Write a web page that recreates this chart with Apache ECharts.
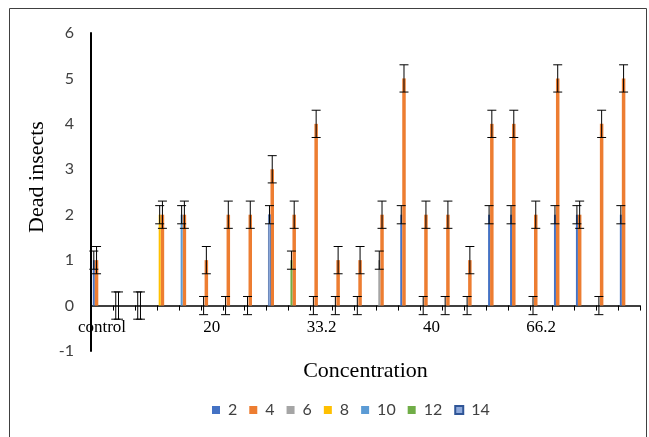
<!DOCTYPE html>
<html>
<head>
<meta charset="utf-8">
<script src="https://cdn.jsdelivr.net/npm/echarts@6/dist/echarts.min.js"></script>
<style>
  html, body { margin: 0; padding: 0; background: #fff; }
  #root { width: 649px; height: 437px; }
</style>
</head>
<body>
<div id="root"></div>
<script>
// x categories, only every 5th one carries a label
var categories = ['control', '', '', '', '', '20', '', '', '', '', '33.2', '', '', '', '',
  '40', '', '', '', '', '66.2', '', '', '', ''];
var yTicks = [-1, 0, 1, 2, 3, 4, 5, 6];
var seriesNames = ['2', '4', '6', '8', '10', '12', '14'];

// dead insects per category (null = no value)
var v2 = [1, 0, 0, null, null, 0, 0, 0, null, null, 0, 0, 0, null, 2, 0, 0, 0, 2, 2, 0, 2, 2, 0, 2];
var v4 = [1, 0, 0, 2, 2, 1, 2, 2, 3, 2, 4, 1, 1, 2, 5, 2, 2, 1, 4, 4, 2, 5, 2, 4, 5];
var v6 = [null, null, null, null, null, null, null, null, null, null, null, null, null, 1, null, null, null, null, null, null, null, null, null, null, null];
var v8 = [null, null, null, 2, null, null, null, null, null, null, null, null, null, null, null, null, null, null, null, null, null, null, null, null, null];
var v10 = [null, null, null, null, 2, null, null, null, null, null, null, null, null, null, null, null, null, null, null, null, null, null, null, null, null];
var v12 = [null, null, null, null, null, null, null, null, null, 1, null, null, null, null, null, null, null, null, null, null, null, null, null, null, null];
var v14 = [null, null, null, null, null, null, null, null, 2, null, null, null, null, null, null, null, null, null, null, null, null, null, null, null, null];

// error bar half lengths
var e2 = [0.2, 0.3, 0.3, null, null, 0.2, 0.2, 0.2, null, null, 0.2, 0.2, 0.2, null, 0.2, 0.2, 0.2, 0.2, 0.2, 0.2, 0.2, 0.2, 0.2, 0.2, 0.2];
var e4 = [0.3, 0.3, 0.3, 0.3, 0.3, 0.3, 0.3, 0.3, 0.3, 0.3, 0.3, 0.3, 0.3, 0.3, 0.3, 0.3, 0.3, 0.3, 0.3, 0.3, 0.3, 0.3, 0.3, 0.3, 0.3];
var e6 = [null, null, null, null, null, null, null, null, null, null, null, null, null, 0.2, null, null, null, null, null, null, null, null, null, null, null];
var e8 = [null, null, null, 0.2, null, null, null, null, null, null, null, null, null, null, null, null, null, null, null, null, null, null, null, null, null];
var e10 = [null, null, null, null, 0.2, null, null, null, null, null, null, null, null, null, null, null, null, null, null, null, null, null, null, null, null];
var e12 = [null, null, null, null, null, null, null, null, null, 0.2, null, null, null, null, null, null, null, null, null, null, null, null, null, null, null];
var e14 = [null, null, null, null, null, null, null, null, 0.2, null, null, null, null, null, null, null, null, null, null, null, null, null, null, null, null];

var values = [v2, v4, v6, v8, v10, v12, v14];
var errors = [e2, e4, e6, e8, e10, e12, e14];
var colors = ['#4472C4', '#ED7D31', '#A5A5A5', '#FFC000', '#5B9BD5', '#70AD47', '#8EA9DB'];

// bar slots inside a category: orange sits beside whichever other series has a value
var slot = function (k) {
  return k === 1 ? {off: 3.8, w: 3.5} : {off: 1.8, w: 2};
};

function toData(vals, errs) {
  var out = [];
  vals.forEach(function (v, i) {
    if (v != null) out.push([i, v, errs[i]]);
  });
  return out;
}

// bar + error bar, error lines get a higher z2 so they sit above every bar
function barRender(k) {
  var s = slot(k);
  return function (params, api) {
    var band = api.size([1, 0])[0];
    var i = api.value(0), v = api.value(1), e = api.value(2);
    var base = api.coord([i, 0]);
    var top = api.coord([i, v]);
    var x = base[0] - band / 2 + s.off;
    var cx = x + s.w / 2;
    var hi = api.coord([i, v + e])[1];
    var lo = api.coord([i, v - e])[1];
    var cap = 4.5;
    var st = {stroke: '#000', lineWidth: 1};
    return {
      type: 'group',
      children: [
        {
          type: 'rect',
          shape: {x: x, y: Math.min(top[1], base[1]), width: s.w, height: Math.abs(base[1] - top[1])},
          style: api.style(),
          z2: 1
        },
        {type: 'line', shape: {x1: cx, y1: hi, x2: cx, y2: lo}, style: st, z2: 20},
        {type: 'line', shape: {x1: cx - cap, y1: hi, x2: cx + cap, y2: hi}, style: st, z2: 20},
        {type: 'line', shape: {x1: cx - cap, y1: lo, x2: cx + cap, y2: lo}, style: st, z2: 20}
      ]
    };
  };
}

var series = [];
seriesNames.forEach(function (name, k) {
  var item = {color: colors[k]};
  if (name === '14') {
    item.borderColor = '#2F5597';
    item.borderWidth = 0.6;
  }
  series.push({
    name: name,
    type: 'custom',
    renderItem: barRender(k),
    encode: {x: 0, y: 1},
    itemStyle: item,
    data: toData(values[k], errors[k])
  });
});

var myChart = echarts.init(document.getElementById('root'));
myChart.setOption({
  animation: false,
  backgroundColor: '#fff',
  grid: {left: 91, right: 9, top: 33, bottom: 86},
  // outer frame of the figure
  graphic: [{
    type: 'rect',
    silent: true,
    shape: {x: 9.5, y: 8.5, width: 637, height: 440},
    style: {fill: 'transparent', stroke: '#404040', lineWidth: 1}
  }],
  legend: {
    data: seriesNames,
    top: 397,
    left: 207,
    icon: 'rect',
    itemWidth: 8,
    itemHeight: 8,
    itemGap: 12,
    textStyle: {fontFamily: 'Lato', fontSize: 16, color: '#404040', padding: [0, 0, 0, 3]}
  },
  xAxis: {
    type: 'category',
    data: categories,
    name: 'Concentration',
    nameLocation: 'middle',
    nameGap: 9,
    nameTextStyle: {fontFamily: 'Liberation Serif', fontSize: 22, color: '#000'},
    axisLine: {onZero: true, lineStyle: {color: '#000', width: 1.5}},
    axisTick: {show: true, interval: 0, length: 5, lineStyle: {color: '#000'}},
    // v6 keeps labels at the grid bottom, pull them up under the zero line
    axisLabel: {interval: 4, margin: -32, fontFamily: 'Liberation Serif', fontSize: 17, color: '#000'},
    splitLine: {show: false}
  },
  yAxis: {
    type: 'value',
    min: yTicks[0],
    max: yTicks[yTicks.length - 1],
    interval: 1,
    name: 'Dead insects',
    nameLocation: 'middle',
    nameGap: 42,
    nameTextStyle: {fontFamily: 'Liberation Serif', fontSize: 22, color: '#000', padding: [0, 0, 0, 30]},
    axisLine: {show: true, lineStyle: {color: '#000', width: 2}},
    axisTick: {show: false},
    axisLabel: {margin: 17, fontFamily: 'Lato', fontSize: 16, color: '#404040'},
    splitLine: {show: false}
  },
  series: series
});
</script>
</body>
</html>
